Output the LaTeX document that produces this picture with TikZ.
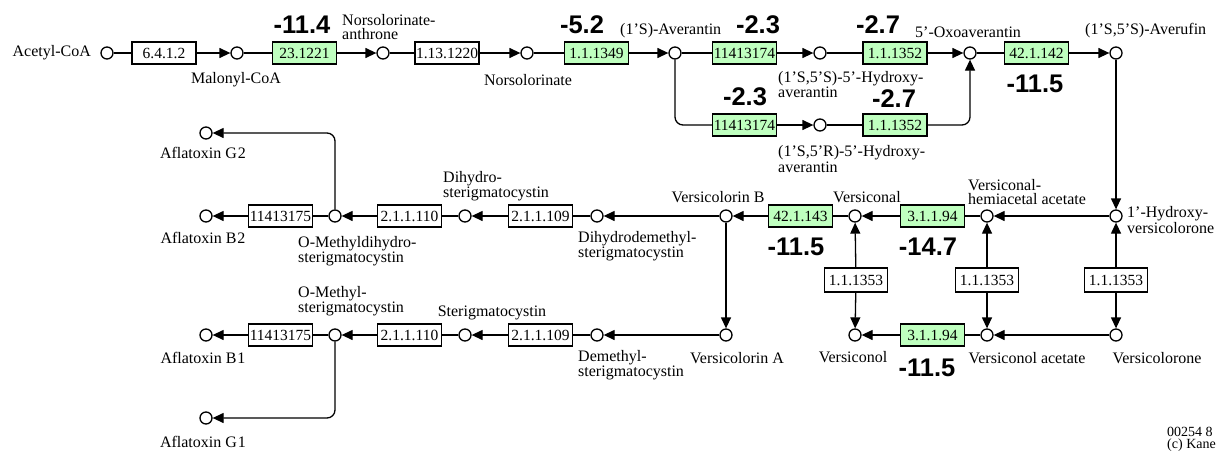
\documentclass[tikz,border=0pt]{standalone}
\usepackage{fontspec}
\setmainfont{Liberation Serif}
\newfontfamily\numfont{Liberation Sans}
\usetikzlibrary{arrows.meta}
\definecolor{kgreen}{RGB}{191,255,191}
\newcommand\ap{\char"0027\relax}
\begin{document}
\begin{tikzpicture}[x=1pt,y=-1pt,
  met/.style={circle,draw,fill=white,line width=1.3pt,minimum size=12pt,inner sep=0pt},
  enz/.style={draw,rectangle,line width=1.2pt,minimum width=64pt,minimum height=22pt,inner sep=0pt,font=\fontsize{15.5}{15}\selectfont},
  genz/.style={enz,fill=kgreen},
  lbl/.style={font=\fontsize{16}{14}\selectfont,inner sep=0pt,align=left},
  clbl/.style={font=\fontsize{16}{14}\selectfont,inner sep=0pt,align=center},
  val/.style={font=\numfont\bfseries\fontsize{25.5}{25}\selectfont,inner sep=0pt,anchor=base},
  conn/.style={line width=1.3pt},
  arr/.style={line width=1.3pt,-{Triangle[length=11pt,width=10pt]}},
  rc/.style={rounded corners=8pt}]
\fill[white] (0,0) rectangle (1220,453);
\useasboundingbox (0,0) rectangle (1220,453);

% ---------- top row ----------
\node[met] (acetyl) at (107,53) {};
\node[met] (malonyl) at (237,53) {};
\node[met] (nant) at (383,53) {};
\node[met] (nors) at (527,53) {};
\node[met] (aver) at (675,53) {};
\node[met] (hyS) at (820,53) {};
\node[met] (hyR) at (820,125) {};
\node[met] (oxo) at (970,53) {};
\node[met] (averufin) at (1116,53) {};

\node[enz] (e6412) at (164,53) {6.4.1.2};
\node[genz] (e231221) at (304.5,53) {23.1221};
\node[enz] (e1131220) at (447,53) {1.13.1220};
\node[genz] (e111349) at (596.5,53) {1.1.1349};
\node[genz] (e114a) at (744.5,53) {11413174};
\node[genz] (e114b) at (744.5,125) {11413174};
\node[genz] (e352a) at (895,53) {1.1.1352};
\node[genz] (e352b) at (895,125) {1.1.1352};
\node[genz] (e421142) at (1036.5,53) {42.1.142};

% ---------- middle row ----------
\node[met] (hvc) at (1116,216) {};
\node[met] (vha) at (987,216) {};
\node[met] (vsal) at (855,216) {};
\node[met] (vcB) at (726,216) {};
\node[met] (dhdm) at (597,216) {};
\node[met] (dhs) at (465,216) {};
\node[met] (omdhs) at (335,216) {};
\node[met] (afB2) at (206,216) {};
\node[met] (afG2) at (206,133) {};

\node[genz] (e31194a) at (932.5,216) {3.1.1.94};
\node[genz] (e421143) at (800.5,216) {42.1.143};
\node[enz] (e109a) at (540.5,216) {2.1.1.109};
\node[enz] (e110a) at (409.5,216) {2.1.1.110};
\node[enz] (e175a) at (280.5,216) {11413175};

% ---------- bottom row ----------
\node[met] (vcl) at (1116,335) {};
\node[met] (vola) at (987,335) {};
\node[met] (vol) at (855,335) {};
\node[met] (vcA) at (726,335) {};
\node[met] (dms) at (597,335) {};
\node[met] (st) at (465,335) {};
\node[met] (omst) at (335,335) {};
\node[met] (afB1) at (206,335) {};
\node[met] (afG1) at (206,418) {};

\node[genz] (e31194b) at (932.5,335) {3.1.1.94};
\node[enz] (e109b) at (540.5,335) {2.1.1.109};
\node[enz] (e110b) at (409.5,335) {2.1.1.110};
\node[enz] (e175b) at (280.5,335) {11413175};

\node[enz,minimum width=63pt,minimum height=24pt] (e353a) at (856,280) {1.1.1353};
\node[enz,minimum width=63pt,minimum height=24pt] (e353b) at (987,280) {1.1.1353};
\node[enz,minimum width=63pt,minimum height=24pt] (e353c) at (1116,280) {1.1.1353};

% ---------- connectors: top ----------
\draw[conn] (acetyl) -- (e6412);
\draw[arr] (e6412) -- (malonyl);
\draw[conn] (malonyl) -- (e231221);
\draw[arr] (e231221) -- (nant);
\draw[conn] (nant) -- (e1131220);
\draw[arr] (e1131220) -- (nors);
\draw[conn] (nors) -- (e111349);
\draw[arr] (e111349) -- (aver);
\draw[conn] (aver) -- (e114a);
\draw[arr] (e114a) -- (hyS);
\draw[conn,rc] (aver.south) |- (e114b.west);
\draw[arr] (e114b) -- (hyR);
\draw[conn] (hyS) -- (e352a);
\draw[arr] (e352a) -- (oxo);
\draw[conn] (hyR) -- (e352b);
\draw[arr,rc] (e352b.east) -| (oxo.south);
\draw[conn] (oxo) -- (e421142);
\draw[arr] (e421142) -- (averufin);
\draw[arr] (averufin) -- (hvc);

% ---------- connectors: middle ----------
\draw[arr] (hvc) -- (vha);
\draw[conn] (vha) -- (e31194a);
\draw[arr] (e31194a) -- (vsal);
\draw[conn] (vsal) -- (e421143);
\draw[arr] (e421143) -- (vcB);
\draw[arr] (vcB) -- (dhdm);
\draw[conn] (dhdm) -- (e109a);
\draw[arr] (e109a) -- (dhs);
\draw[conn] (dhs) -- (e110a);
\draw[arr] (e110a) -- (omdhs);
\draw[conn] (omdhs) -- (e175a);
\draw[arr] (e175a) -- (afB2);
\draw[arr,rc] (omdhs.north) |- (afG2.east);
\draw[arr] (vcB) -- (vcA);

% ---------- connectors: bottom ----------
\draw[arr] (vcA) -- (dms);
\draw[conn] (dms) -- (e109b);
\draw[arr] (e109b) -- (st);
\draw[conn] (st) -- (e110b);
\draw[arr] (e110b) -- (omst);
\draw[conn] (omst) -- (e175b);
\draw[arr] (e175b) -- (afB1);
\draw[arr,rc] (omst.south) |- (afG1.east);
\draw[arr] (vcl) -- (vola);
\draw[conn] (vola) -- (e31194b);
\draw[arr] (e31194b) -- (vol);

% ---------- vertical 1.1.1.353 ----------
\draw[arr] (e353a) -- (vsal);
\draw[arr] (e353a) -- (vol);
\draw[arr] (e353b) -- (vha);
\draw[arr] (e353b) -- (vola);
\draw[arr] (e353c) -- (hvc);
\draw[arr] (e353c) -- (vcl);

% ---------- labels ----------
\node[lbl,anchor=east] (tAcetyl) at (91,53) {Acetyl-CoA};
\node[clbl] (tMalonyl) at (236,80) {Malonyl-CoA};
\node[lbl,anchor=west] (tNant) at (342,27) {Norsolorinate-\\anthrone};
\node[clbl] (tNors) at (528,80) {Norsolorinate};
\node[lbl,anchor=west] (tAver) at (620,31) {(1\ap S)-Averantin};
\node[lbl,anchor=west] (tHyS) at (778,85) {(1\ap S,5\ap S)-5\ap-Hydroxy-\\averantin};
\node[lbl,anchor=west] (tHyR) at (778,159) {(1\ap S,5\ap R)-5\ap-Hydroxy-\\averantin};
\node[lbl,anchor=west] (tOxo) at (915,32) {5\ap-Oxoaverantin};
\node[lbl,anchor=west] (tAverufin) at (1085,31) {(1\ap S,5\ap S)-Averufin};

\node[clbl] (tG2) at (203,153) {Aflatoxin G\kern1pt2};
\node[clbl] (tB2) at (203,238) {Aflatoxin B\kern1pt2};
\node[lbl,anchor=west] (tOmdhs) at (298,251) {O-Methyldihydro-\\sterigmatocystin};
\node[lbl,anchor=west] (tDhs) at (443,186) {Dihydro-\\sterigmatocystin};
\node[lbl,anchor=west] (tDhdm) at (578,246) {Dihydrodemethyl-\\sterigmatocystin};
\node[clbl] (tVcB) at (718,197) {Versicolorin B};
\node[clbl] (tVsal) at (867,197) {Versiconal};
\node[lbl,anchor=west] (tVha) at (968,192) {Versiconal-\\hemiacetal acetate};
\node[lbl,anchor=west] (tHvc) at (1127,220) {1\ap-Hydroxy-\\versicolorone};

\node[lbl,anchor=west] (tOmst) at (298,301) {O-Methyl-\\sterigmatocystin};
\node[clbl] (tSt) at (492,313) {Sterigmatocystin};
\node[clbl] (tB1) at (203,358) {Aflatoxin B\kern1pt1};
\node[clbl] (tG1) at (203,442) {Aflatoxin G\kern1pt1};
\node[lbl,anchor=west] (tDms) at (578,365) {Demethyl-\\sterigmatocystin};
\node[clbl] (tVcA) at (737,358) {Versicolorin A};
\node[clbl] (tVol) at (853,357) {Versiconol};
\node[clbl] (tVola) at (1027,358) {Versiconol acetate};
\node[clbl] (tVcl) at (1157,358) {Versicolorone};

\node[lbl,anchor=west,font=\fontsize{14}{12}\selectfont] (tFoot) at (1167,439) {00254 8\\(c) Kane};

% ---------- values ----------
\node[val] (v1) at (302,33) {-11.4};
\node[val] (v2) at (582,33) {-5.2};
\node[val] (v3) at (758,33) {-2.3};
\node[val] (v4) at (878,33) {-2.7};
\node[val] (v5) at (1035,92) {-11.5};
\node[val] (v6) at (745,105) {-2.3};
\node[val] (v7) at (894,107) {-2.7};
\node[val] (v8) at (796,255) {-11.5};
\node[val] (v9) at (928,255) {-14.7};
\node[val] (v10) at (927,376) {-11.5};
\end{tikzpicture}
\end{document}
